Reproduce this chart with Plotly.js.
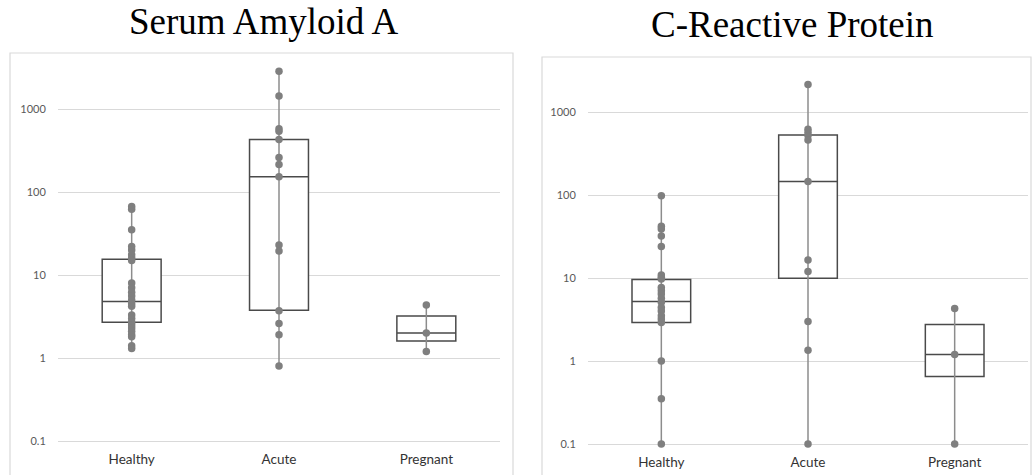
<!DOCTYPE html>
<html><head><meta charset="utf-8">
<script src="https://cdn.plot.ly/plotly-3.0.1.min.js"></script>
<style>html,body{margin:0;padding:0;background:#fff}#chart{width:1032px;height:475px}</style>
</head><body><div id="chart"></div><script>
// ---- data ----
const categories = ['Healthy', 'Acute', 'Pregnant'];
const tickValues = [0.1, 1, 10, 100, 1000];
const tickLabels = ['0.1', '1', '10', '100', '1000'];
const titles = ['Serum Amyloid A', 'C-Reactive Protein'];

// Serum Amyloid A points
const saaHealthy = [67, 62, 35, 22, 20, 17.5, 16, 15, 8, 7, 6.2, 5.6, 5, 4.5, 4.2, 3.3, 3.0, 2.7, 2.5, 2.3, 2.1, 1.9, 1.8, 1.4, 1.3];
const saaAcute = [2850, 1430, 580, 540, 430, 260, 215, 153, 23, 19.5, 3.7, 2.6, 1.9, 0.8];
const saaPregnant = [4.35, 2.0, 1.2];
// Serum Amyloid A box statistics (Healthy, Acute, Pregnant)
const saaQ1 = [2.7, 3.75, 1.6];
const saaMedian = [4.8, 153, 2.0];
const saaQ3 = [15.5, 430, 3.2];
const saaLow = [1.3, 0.8, 1.2];
const saaHigh = [67, 2850, 4.35];

// C-Reactive Protein points
const crpHealthy = [98, 42, 39, 32, 24, 10.9, 10.2, 9.7, 7.7, 7.0, 6.4, 5.7, 5.1, 4.4, 4.0, 3.5, 3.2, 2.9, 1.0, 0.35, 0.1];
const crpAcute = [2150, 620, 570, 520, 460, 145, 16.5, 12, 3.0, 1.35, 0.1];
const crpPregnant = [4.3, 1.2, 0.1];
// C-Reactive Protein box statistics
const crpQ1 = [2.9, 9.9, 0.65];
const crpMedian = [5.2, 145, 1.2];
const crpQ3 = [9.6, 530, 2.75];
const crpLow = [0.1, 0.1, 0.1];
const crpHigh = [98, 2150, 4.3];

// ---- styles ----
const W = 1032, H = 475;
const pointColor = '#7f7f7f';
const whiskerColor = '#8c8c8c';
const boxColor = '#4a4a4a';

function panelTraces(groups, q1, med, q3, lo, hi, xa, ya) {
  const traces = [];
  // whiskers
  const wx = [], wy = [];
  categories.forEach((c, i) => { wx.push(c, c, null); wy.push(lo[i], hi[i], null); });
  traces.push({type: 'scatter', mode: 'lines', x: wx, y: wy, xaxis: xa, yaxis: ya,
    line: {color: whiskerColor, width: 1.5}, hoverinfo: 'skip', cliponaxis: false});
  // boxes
  traces.push({type: 'box', x: categories, q1: q1, median: med, q3: q3,
    lowerfence: q1, upperfence: q3, xaxis: xa, yaxis: ya, width: 0.4,
    fillcolor: '#ffffff', line: {color: boxColor, width: 1.5}, whiskerwidth: 0,
    boxpoints: false});
  // points
  const px = [], py = [];
  groups.forEach((g, i) => g.forEach(v => { px.push(categories[i]); py.push(v); }));
  traces.push({type: 'scatter', mode: 'markers', x: px, y: py, xaxis: xa, yaxis: ya,
    marker: {color: pointColor, size: 7.5}, cliponaxis: false});
  return traces;
}

const data = [].concat(
  panelTraces([saaHealthy, saaAcute, saaPregnant], saaQ1, saaMedian, saaQ3, saaLow, saaHigh, 'x', 'y'),
  panelTraces([crpHealthy, crpAcute, crpPregnant], crpQ1, crpMedian, crpQ3, crpLow, crpHigh, 'x2', 'y2')
);

const tickFont = {family: 'Lato, "Open Sans", sans-serif', size: 11, color: '#595959'};
const catFont = {family: 'Lato, "Open Sans", sans-serif', size: 13.5, color: '#333333'};

function xAxis(x0, x1, anchor) {
  return {domain: [x0 / W, x1 / W], anchor: anchor, type: 'category',
    categoryorder: 'array', categoryarray: categories, range: [-0.5, 2.5], autorange: false,
    showgrid: false, zeroline: false, showline: false, ticks: '',
    tickfont: catFont, fixedrange: true};
}
function yAxis(bottomPx, topPx, anchor) {
  return {domain: [1 - bottomPx / H, 1 - topPx / H], anchor: anchor, type: 'log',
    range: [-1.1, 3.55], autorange: false, tickvals: tickValues, ticktext: tickLabels,
    showgrid: true, gridcolor: '#d9d9d9', gridwidth: 1, zeroline: false, showline: false,
    ticks: 'outside', ticklen: 9, tickcolor: 'rgba(0,0,0,0)', tickfont: tickFont, fixedrange: true};
}

const titleFont = {family: '"Liberation Serif", "Times New Roman", serif', size: 37, color: '#000000'};

const layout = {
  width: W, height: H,
  margin: {l: 0, r: 0, t: 0, b: 0},
  paper_bgcolor: '#ffffff', plot_bgcolor: 'rgba(0,0,0,0)',
  showlegend: false,
  xaxis: xAxis(58, 500, 'y'),
  yaxis: yAxis(449.3, 63.35, 'x'),
  xaxis2: xAxis(588, 1028, 'y2'),
  yaxis2: yAxis(452.3, 66.35, 'x2'),
  shapes: [
    {type: 'rect', xref: 'paper', yref: 'paper', x0: 10 / W, x1: 513 / W, y0: -0.05, y1: 1 - 53 / H,
      line: {color: '#d9d9d9', width: 1.2}, fillcolor: 'rgba(0,0,0,0)', layer: 'below'},
    {type: 'rect', xref: 'paper', yref: 'paper', x0: 542 / W, x1: 1031 / W, y0: -0.05, y1: 1 - 57 / H,
      line: {color: '#d9d9d9', width: 1.2}, fillcolor: 'rgba(0,0,0,0)', layer: 'below'}
  ],
  annotations: [
    {text: titles[0], xref: 'paper', yref: 'paper', x: 264 / W, y: 1 - 22 / H,
      xanchor: 'center', yanchor: 'middle', showarrow: false, font: titleFont},
    {text: titles[1], xref: 'paper', yref: 'paper', x: 792 / W, y: 1 - 25 / H,
      xanchor: 'center', yanchor: 'middle', showarrow: false, font: titleFont}
  ]
};

Plotly.newPlot('chart', data, layout, {displayModeBar: false, staticPlot: true});
</script></body></html>
